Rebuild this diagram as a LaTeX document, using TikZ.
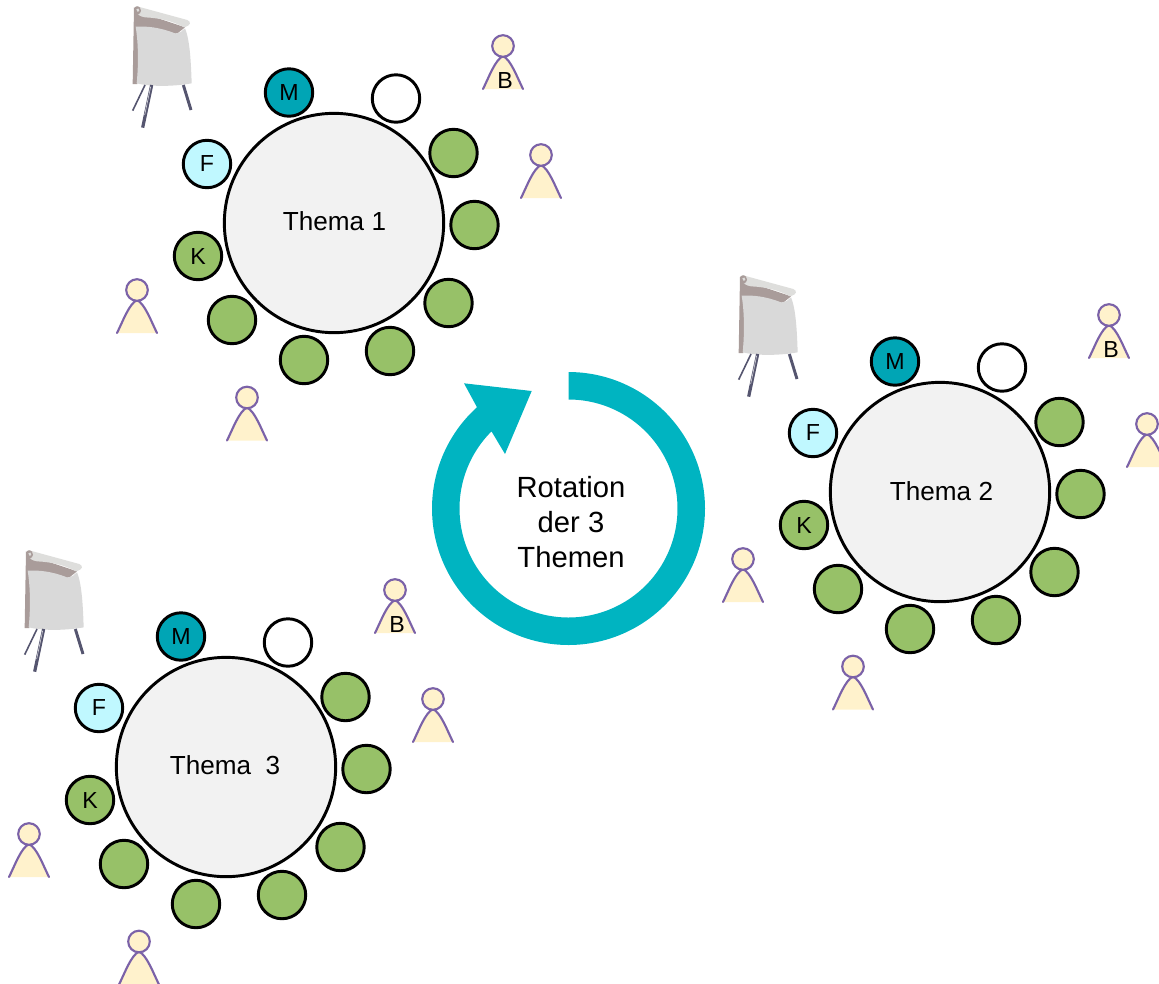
\documentclass[tikz,border=0pt]{standalone}
\usepackage{fontspec}
\setmainfont{Liberation Sans}
\definecolor{seatgreen}{HTML}{97C168}
\definecolor{tealseat}{HTML}{00A5B5}
\definecolor{cyanseat}{HTML}{C0F8FF}
\definecolor{tablegray}{HTML}{F2F2F2}
\definecolor{ringteal}{HTML}{00B4C1}
\definecolor{personfill}{HTML}{FFF2CC}
\definecolor{personline}{HTML}{7B62A8}
\definecolor{paper}{HTML}{D9D9D9}
\definecolor{paperlight}{HTML}{DEDEDC}
\definecolor{paperbrown}{HTML}{A99C9A}
\definecolor{legcolor}{HTML}{55556F}
\tikzset{
  x=0.75pt,y=-0.75pt,
  seat/.style={circle,draw=black,line width=2.2pt,minimum size=35.6pt,inner sep=0pt,font=\fontsize{17.4}{20}\selectfont},
  greenseat/.style={seat,fill=seatgreen},
  tablecircle/.style={circle,draw=black,line width=2.2pt,fill=tablegray,minimum size=164.5pt,inner sep=0pt},
  tabletext/.style={font=\fontsize{19.6}{23}\selectfont,inner sep=0pt},
  head/.style={circle,draw=personline,line width=1.6pt,fill=personfill,minimum size=16.2pt,inner sep=0pt},
  person/.pic={
    \fill[personfill] (0,10) .. controls (8,14) and (14,31) .. (20,43) -- (-20,43) .. controls (-14,31) and (-8,14) .. (0,10) -- cycle;
    \draw[personline,line width=1.6pt,line cap=round] (-20,43) .. controls (-14,31) and (-8,14) .. (0,10) .. controls (8,14) and (14,31) .. (20,43);
    \node[head] (-h) at (0,0) {};
  },
  flipchart/.pic={
    \begin{scope}[shift={(110,0)},x=0.25pt,y=-0.25pt]
      \fill[paperbrown] (72,22) -- (68,252) -- (82,252) -- (90,100) -- (200,102) -- (225,82) -- (100,40) -- cycle;
      \fill[paper] (77,80) .. controls (110,78) and (150,82) .. (195,100) .. controls (210,100) and (218,92) .. (225,85) .. controls (240,120) and (243,190) .. (245,250) .. controls (200,258) and (130,262) .. (80,250) .. controls (86,190) and (85,130) .. (77,80) -- cycle;
      \fill[paperlight] (78,18) -- (232,60) .. controls (244,66) and (244,76) .. (222,82) .. controls (190,64) and (150,54) .. (105,52) .. controls (92,50) and (80,44) .. (75,30) -- cycle;
      \fill[paperbrown] (72,28) .. controls (74,15) and (92,15) .. (93,32) .. controls (92,44) and (78,46) .. (72,42) -- cycle;
      \fill[paperlight] (79,28) .. controls (82,22) and (90,26) .. (88,33) .. controls (85,38) and (80,36) .. (79,28) -- cycle;
      \draw[legcolor,line width=1.2pt] (105,255) -- (68,332);
      \draw[legcolor,line width=2.4pt] (125,255) -- (98,383);
      \draw[legcolor!30!white,line width=0.5pt] (122,260) -- (104,345);
      \draw[legcolor,line width=2.2pt] (220,255) -- (243,330);
    \end{scope}
  },
  tablegroup/.pic={
    \node[tablecircle] (-t) at (334,223) {};
    \node[seat,fill=tealseat] (-m) at (289,92.5) {M};
    \node[seat,fill=white] (-w) at (396,98.5) {};
    \node[greenseat] (-s1) at (453.5,153) {};
    \node[greenseat] (-s2) at (474.5,225) {};
    \node[greenseat] (-s3) at (448.5,303) {};
    \node[greenseat] (-s4) at (390,351) {};
    \node[greenseat] (-s5) at (304,360) {};
    \node[greenseat] (-s6) at (232,320) {};
    \node[greenseat] (-k) at (198,256) {};
    \node[inner sep=0pt,font=\fontsize{17.4}{20}\selectfont] (-kt) at (198,257) {K};
    \node[seat,fill=cyanseat] (-f) at (207,164) {F};
    \pic (-pa) at (503,46) {person};
    \pic (-pb) at (541,155) {person};
    \pic (-pc) at (137,290) {person};
    \pic (-pd) at (247,397.5) {person};
    \node[inner sep=0pt,font=\fontsize{17.4}{20}\selectfont] (-b) at (505,81) {B};
    \pic (-fc) at (0,0) {flipchart};
  }
}
\begin{document}
\begin{tikzpicture}
\useasboundingbox (0,0) rectangle (1159,983);
\pic (g1) at (0,0) {tablegroup};
\pic (g2) at (606,269) {tablegroup};
\pic (g3) at (-108,544) {tablegroup};
\node[tabletext] (t1) at (334.5,221) {Thema 1};
\node[tabletext] (t2) at (941.5,491) {Thema 2};
\node[tabletext] (t3) at (225,765) {Thema\ \ 3};
\fill[ringteal]
  plot[domain=-90:227.9,samples=160] ({568.5+136.5*cos(\x)},{508.5+136.5*sin(\x)})
  -- (464,383.3) -- (531.7,391) -- (505,454) -- (491.7,431.7)
  -- plot[domain=225:-90,samples=160] ({568.5+109*cos(\x)},{508.5+109*sin(\x)}) -- cycle;
\node[align=center,inner sep=0pt,font=\fontsize{21.9}{26}\selectfont] (rot) at (571,522) {Rotation\\der 3\\Themen};
\end{tikzpicture}
\end{document}
